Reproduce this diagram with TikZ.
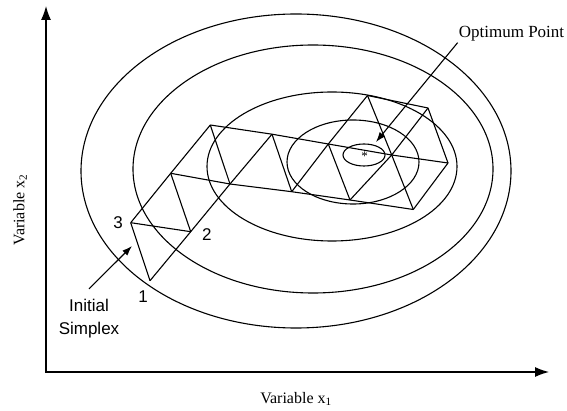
\documentclass[tikz,border=0pt]{standalone}
\usepackage{fontspec}
\setmainfont{Liberation Serif}
\setsansfont{Liberation Sans}
\usetikzlibrary{arrows.meta, positioning}

\begin{document}
\begin{tikzpicture}[
    x=1pt, y=-1pt,
    contour/.style={draw, line width=1.1pt},
    edge/.style={draw, line width=1.1pt, line join=round},
    arrow/.style={draw, line width=1.1pt, ->, >={Latex[length=10pt, width=7pt]}},
    axis/.style={draw, line width=1.2pt, <->, >={Latex[length=14pt, width=10pt]}},
    axislabel/.style={font=\fontsize{16}{18}\selectfont, inner sep=1pt},
    note/.style={font=\fontsize{17}{20}\selectfont, inner sep=1pt},
    vertexnum/.style={font=\sffamily\fontsize{17}{20}\selectfont, inner sep=2pt},
    sidenote/.style={font=\sffamily\fontsize{17}{23.3}\selectfont, align=center, inner sep=2pt, outer ysep=8pt}
]
\useasboundingbox (0,0) rectangle (567,411);

\coordinate (o) at (46,372);
\coordinate (ytip) at (46,6);
\coordinate (xtip) at (549,372);
\draw[axis] (ytip) -- (o) -- (xtip);

\node[axislabel] (xlab) at (296,399) {Variable x\textsubscript{1}};
\node[axislabel, rotate=90] (ylab) at (20,210) {Variable x\textsubscript{2}};

\draw[contour] (296,171) ellipse [x radius=215pt, y radius=157pt];
\draw[contour] (313,169) ellipse [x radius=180pt, y radius=124pt];
\draw[contour] (332,166.5) ellipse [x radius=125pt, y radius=74.5pt];
\draw[contour] (353,162) ellipse [x radius=66pt, y radius=42pt];
\draw[contour] (364,155) ellipse [x radius=21pt, y radius=11pt];
\node[font=\fontsize{13}{13}\selectfont, inner sep=0pt] (opt) at (364.5,156) {*};

\coordinate (v1) at (150,280.7);
\coordinate (v2) at (190.7,231.7);
\coordinate (v3) at (130.7,222.7);
\coordinate (a) at (170.7,173.3);
\coordinate (c) at (230,184);
\coordinate (b) at (210.3,125);
\coordinate (d) at (272,134.2);
\coordinate (e) at (291.7,191.7);
\coordinate (f) at (328.3,144);
\coordinate (k) at (350,200);
\coordinate (g) at (367.5,95.5);
\coordinate (h) at (391.7,155);
\coordinate (j) at (413.3,209.5);
\coordinate (i) at (428,108);
\coordinate (l) at (448,163);

\draw[edge] (v1) -- (v2) -- (c) -- (d);
\draw[edge] (v3) -- (a) -- (b);
\draw[edge] (v3) -- (v1);
\draw[edge] (v3) -- (v2);
\draw[edge] (a) -- (v2);
\draw[edge] (a) -- (c) -- (e) -- (k) -- (j);
\draw[edge] (b) -- (c);
\draw[edge] (b) -- (d) -- (f) -- (h) -- (l);
\draw[edge] (d) -- (e);
\draw[edge] (e) -- (f) -- (g);
\draw[edge] (f) -- (k);
\draw[edge] (k) -- (h) -- (i);
\draw[edge] (g) -- (h) -- (j);
\draw[edge] (g) -- (i) -- (l) -- (j);

\node[vertexnum, below=8pt of v1, xshift=-7pt] (n1) {1};
\node[vertexnum, right=9.3pt of v2, yshift=-3pt] (n2) {2};
\node[vertexnum, left=5.7pt of v3] (n3) {3};

\node[sidenote] (init) at (89,318.5) {Initial\\Simplex};
\coordinate (inittip) at (132,246);
\draw[arrow] (init.north) -- (inittip);

\node[note] (optlab) at (511.5,34) {Optimum Point};
\coordinate (opttip) at (376,142);
\draw[arrow] (optlab.south west) -- (opttip);

\end{tikzpicture}
\end{document}
